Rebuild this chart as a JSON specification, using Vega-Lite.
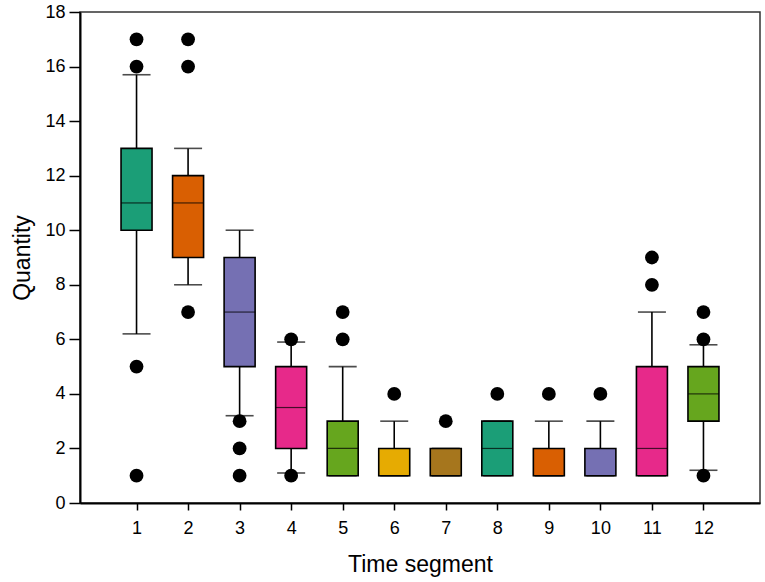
{
  "$schema": "https://vega.github.io/schema/vega-lite/v6.json",
  "width": 680,
  "height": 491,
  "autosize": {"type": "none"},
  "padding": {"left": 80, "top": 12, "right": 5, "bottom": 79},
  "background": "white",
  "config": {
    "font": "Liberation Sans",
    "view": {"stroke": "#333333", "strokeWidth": 1.5},
    "axis": {
      "labelFont": "Liberation Sans",
      "titleFont": "Liberation Sans",
      "labelFontSize": 18,
      "titleFontSize": 23,
      "titleFontWeight": "normal",
      "labelColor": "black",
      "titleColor": "black",
      "domainColor": "black",
      "domainWidth": 2,
      "tickColor": "black",
      "tickWidth": 1.5,
      "grid": false
    }
  },
  "datasets": {
    "boxes": [
      {"seg": 1, "lower": 6.2, "q1": 10, "median": 11, "q3": 13, "upper": 15.7},
      {"seg": 2, "lower": 8, "q1": 9, "median": 11, "q3": 12, "upper": 13},
      {"seg": 3, "lower": 3.2, "q1": 5, "median": 7, "q3": 9, "upper": 10},
      {"seg": 4, "lower": 1.1, "q1": 2, "median": 3.5, "q3": 5, "upper": 5.9},
      {"seg": 5, "lower": 1, "q1": 1, "median": 2, "q3": 3, "upper": 5},
      {"seg": 6, "lower": 1, "q1": 1, "median": 1, "q3": 2, "upper": 3},
      {"seg": 7, "lower": 1, "q1": 1, "median": 1, "q3": 2, "upper": 2},
      {"seg": 8, "lower": 1, "q1": 1, "median": 2, "q3": 3, "upper": 3},
      {"seg": 9, "lower": 1, "q1": 1, "median": 1, "q3": 2, "upper": 3},
      {"seg": 10, "lower": 1, "q1": 1, "median": 1, "q3": 2, "upper": 3},
      {"seg": 11, "lower": 1, "q1": 1, "median": 2, "q3": 5, "upper": 7},
      {"seg": 12, "lower": 1.2, "q1": 3, "median": 4, "q3": 5, "upper": 5.8}
    ],
    "outliers": [
      {"seg": 1, "value": 17}, {"seg": 1, "value": 16}, {"seg": 1, "value": 5}, {"seg": 1, "value": 1},
      {"seg": 2, "value": 17}, {"seg": 2, "value": 16}, {"seg": 2, "value": 7},
      {"seg": 3, "value": 3}, {"seg": 3, "value": 2}, {"seg": 3, "value": 1},
      {"seg": 4, "value": 6}, {"seg": 4, "value": 1},
      {"seg": 5, "value": 7}, {"seg": 5, "value": 6},
      {"seg": 6, "value": 4},
      {"seg": 7, "value": 3},
      {"seg": 8, "value": 4},
      {"seg": 9, "value": 4},
      {"seg": 10, "value": 4},
      {"seg": 11, "value": 9}, {"seg": 11, "value": 8},
      {"seg": 12, "value": 7}, {"seg": 12, "value": 6}, {"seg": 12, "value": 1}
    ]
  },
  "encoding": {
    "x": {
      "field": "seg",
      "type": "quantitative",
      "title": "Time segment",
      "scale": {"domain": [0, 13], "nice": false, "zero": false},
      "axis": {"values": [1, 2, 3, 4, 5, 6, 7, 8, 9, 10, 11, 12], "tickSize": 7, "labelPadding": 9, "titlePadding": 16}
    }
  },
  "layer": [
    {
      "data": {"name": "boxes"},
      "mark": {"type": "rule", "color": "black", "strokeWidth": 1.6},
      "encoding": {
        "y": {
          "field": "lower",
          "type": "quantitative",
          "title": "Quantity",
          "scale": {"domain": [0, 18], "nice": false},
          "axis": {"values": [0, 2, 4, 6, 8, 10, 12, 14, 16, 18], "tickSize": 11, "labelPadding": 4, "titlePadding": 10}
        },
        "y2": {"field": "upper"}
      }
    },
    {
      "data": {"name": "boxes"},
      "mark": {"type": "tick", "orient": "horizontal", "color": "black", "size": 28, "thickness": 1.6},
      "encoding": {"y": {"field": "upper", "type": "quantitative"}}
    },
    {
      "data": {"name": "boxes"},
      "mark": {"type": "tick", "orient": "horizontal", "color": "black", "size": 28, "thickness": 1.6},
      "encoding": {"y": {"field": "lower", "type": "quantitative"}}
    },
    {
      "data": {"name": "boxes"},
      "mark": {"type": "bar", "size": 31, "stroke": "black", "strokeWidth": 1.6, "opacity": 1},
      "encoding": {
        "y": {"field": "q1", "type": "quantitative"},
        "y2": {"field": "q3"},
        "color": {
          "field": "seg",
          "type": "nominal",
          "legend": null,
          "scale": {
            "domain": [1, 2, 3, 4, 5, 6, 7, 8, 9, 10, 11, 12],
            "range": ["#1b9e77", "#d95f02", "#7570b3", "#e7298a", "#66a61e", "#e6ab02", "#a6761d", "#1b9e77", "#d95f02", "#7570b3", "#e7298a", "#66a61e"]
          }
        }
      }
    },
    {
      "data": {"name": "boxes"},
      "mark": {"type": "tick", "orient": "horizontal", "color": "black", "size": 31, "thickness": 1.2},
      "encoding": {"y": {"field": "median", "type": "quantitative"}}
    },
    {
      "data": {"name": "outliers"},
      "mark": {"type": "point", "shape": "circle", "filled": true, "color": "black", "size": 190, "opacity": 1},
      "encoding": {"y": {"field": "value", "type": "quantitative"}}
    }
  ]
}
